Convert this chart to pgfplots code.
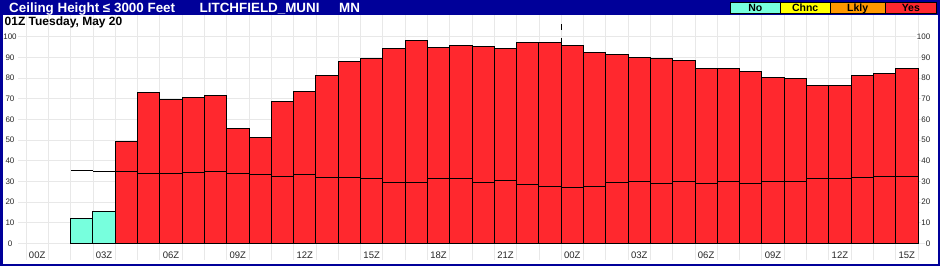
\documentclass[border=0pt]{standalone}
\usepackage{fontspec}
\setmainfont{Liberation Sans}
\usepackage{pgfplots}
\usepackage{pgfplotstable}
\pgfplotsset{compat=1.18}
\definecolor{hdrblue}{RGB}{0,0,153}
\definecolor{barred}{RGB}{255,40,46}
\definecolor{barcyan}{RGB}{119,255,221}
\definecolor{lyellow}{RGB}{255,255,0}
\definecolor{lorange}{RGB}{255,153,0}
\definecolor{gridgray}{RGB}{232,232,232}

\pgfplotstableread{
x top
2 11.9
3 15.3
}\nodata

\pgfplotstableread{
x top
4 49.3
5 73.0
6 69.5
7 70.5
8 71.6
9 55.6
10 51.3
11 68.7
12 73.5
13 81.3
14 88.0
15 89.5
16 94.3
17 98.2
18 94.8
19 95.8
20 95.3
21 94.3
22 97.2
23 97.2
24 95.8
25 92.4
26 91.4
27 90.0
28 89.5
29 88.5
30 84.7
31 84.7
32 83.2
33 80.3
34 79.8
35 76.4
36 76.4
37 81.3
38 82.2
39 84.7
}\yesdata

\pgfplotstableread{
x mid
2 35.1
3 34.7
4 34.7
5 33.7
6 33.7
7 34.2
8 34.8
9 33.9
10 33.4
11 32.4
12 33.4
13 31.9
14 31.9
15 31.3
16 29.5
17 29.5
18 31.3
19 31.3
20 29.5
21 30.5
22 28.5
23 27.6
24 27.1
25 27.6
26 29.5
27 30.0
28 29.0
29 30.0
30 29.0
31 30.0
32 29.0
33 30.0
34 30.0
35 31.4
36 31.4
37 31.9
38 32.4
39 32.4
}\middata

\begin{document}
\begin{tikzpicture}[x=1pt,y=1pt]
\useasboundingbox (0,0) rectangle (940,266);
\fill[hdrblue] (0,0) rectangle (940,266);
\fill[white] (2.5,2) rectangle (937.5,251);
% title bar
\node[anchor=base west, text=white, font=\bfseries\fontsize{13.4}{15}\selectfont, inner sep=0pt] at (9,253.9) {Ceiling Height ≤ 3000 Feet};
\node[anchor=base west, text=white, font=\bfseries\fontsize{13.4}{15}\selectfont, inner sep=0pt] at (199.5,253.9) {LITCHFIELD\_MUNI};
\node[anchor=base west, text=white, font=\bfseries\fontsize{13.4}{15}\selectfont, inner sep=0pt] at (339,253.9) {MN};
% legend boxes
\draw[black, line width=0.8pt, fill=barcyan] (730.5,252.7) rectangle (780,264);
\draw[black, line width=0.8pt, fill=lyellow] (780,252.7) rectangle (830.3,264);
\draw[black, line width=0.8pt, fill=lorange] (830.3,252.7) rectangle (885,264);
\draw[black, line width=0.8pt, fill=barred] (885,252.7) rectangle (936.7,264);
\node[anchor=base, font=\bfseries\fontsize{10.5}{11}\selectfont, inner sep=0pt] at (755.25,254.4) {No};
\node[anchor=base, font=\bfseries\fontsize{10.5}{11}\selectfont, inner sep=0pt] at (805.15,254.4) {Chnc};
\node[anchor=base, font=\bfseries\fontsize{10.5}{11}\selectfont, inner sep=0pt] at (857.65,254.4) {Lkly};
\node[anchor=base, font=\bfseries\fontsize{10.5}{11}\selectfont, inner sep=0pt] at (910.85,254.4) {Yes};

\begin{axis}[
  at={(18pt,6.5pt)}, anchor=south west, scale only axis,
  width=908pt, height=244.5pt,
  xmin=-0.86, xmax=39.86, ymin=-7.84, ymax=110.5,
  axis line style={draw=none},
  major tick length=0pt, minor tick length=0pt,
  xtick={0,3,...,39},
  xticklabels={00Z,03Z,06Z,09Z,12Z,15Z,18Z,21Z,00Z,03Z,06Z,09Z,12Z,15Z},
  minor xtick={-0.5,0.5,...,39.5},
  xminorgrids=true, xmajorgrids=false,
  ytick={0,10,...,100},
  ymajorgrids=true,
  grid style={gridgray, line width=0.8pt},
  minor grid style={gridgray, line width=0.8pt},
  /pgf/number format/assume math mode=true,
  xticklabel style={anchor=center, yshift=4pt, font=\fontsize{9.5}{10}\selectfont, text=black!85, inner sep=0pt},
  yticklabel style={anchor=center, xshift=-8pt, font=\fontsize{8}{9}\selectfont, text=black!85, inner sep=0.5pt},
  clip=false,
]
\addplot[black, line width=0.8pt, dash pattern=on 6pt off 8pt] coordinates {(23.5,106) (23.5,0)};
\addplot[ybar, bar width=1, bar shift=0pt, fill=barcyan, draw=black, line width=0.9pt] table[x=x,y=top]{\nodata};
\addplot[ybar, bar width=1, bar shift=0pt, fill=barred, draw=black, line width=0.9pt] table[x=x,y=top]{\yesdata};
\addplot[only marks, mark=-, mark size=11.15pt, mark options={black, line width=1.2pt}] table[x=x,y=mid]{\middata};
\end{axis}

\begin{axis}[
  at={(18pt,6.5pt)}, anchor=south west, scale only axis,
  width=908pt, height=244.5pt,
  xmin=-0.86, xmax=39.86, ymin=-7.84, ymax=110.5,
  axis line style={draw=none},
  major tick length=0pt,
  xtick=\empty,
  ytick={0,10,...,100},
  yticklabel pos=right,
  /pgf/number format/assume math mode=true,
  yticklabel style={anchor=east, xshift=5pt, fill=white, font=\fontsize{8}{9}\selectfont, text=black!85, inner sep=0.5pt},
]
\end{axis}
% subtitle
\node[anchor=base west, font=\bfseries\fontsize{12}{13}\selectfont, inner sep=0pt] at (4.5,241) {01Z Tuesday, May 20};
\end{tikzpicture}
\end{document}
